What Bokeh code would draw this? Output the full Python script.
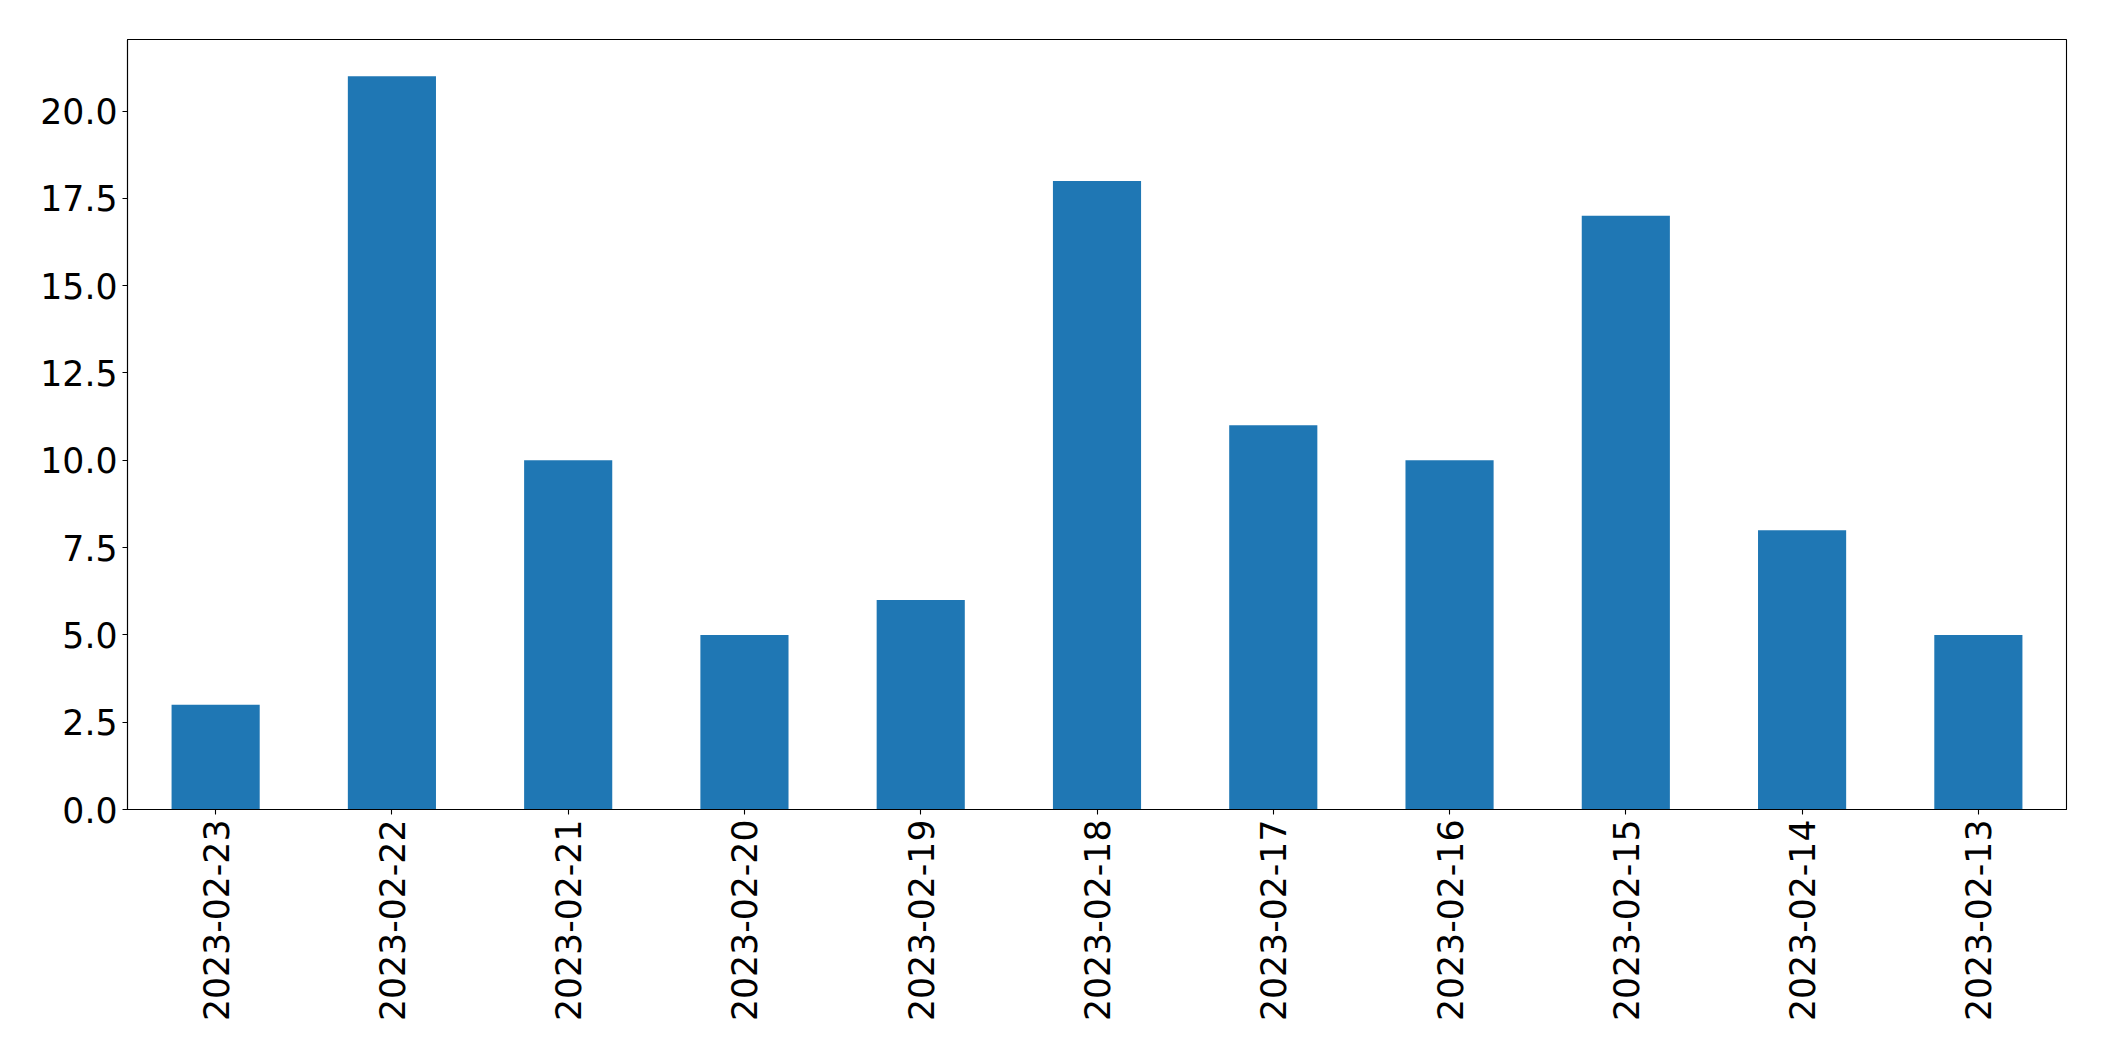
import math
from bokeh.plotting import figure
from bokeh.models import Range1d, FactorRange, FixedTicker, NumeralTickFormatter, ColumnDataSource
from bokeh.embed import file_html
from bokeh.resources import INLINE

dates = ["2023-02-23", "2023-02-22", "2023-02-21", "2023-02-20", "2023-02-19",
         "2023-02-18", "2023-02-17", "2023-02-16", "2023-02-15", "2023-02-14", "2023-02-13"]
counts = [3, 21, 10, 5, 6, 18, 11, 10, 17, 8, 5]
y_ticks = [0, 2.5, 5, 7.5, 10, 12.5, 15, 17.5, 20]

src = ColumnDataSource(dict(x=dates, top=counts))

p = figure(x_range=FactorRange(*dates), y_range=Range1d(0, max(counts) * 1.05),
           frame_width=1939, frame_height=770,
           min_border_left=127, min_border_right=22, min_border_top=39, min_border_bottom=236,
           output_backend="svg", toolbar_location=None)

p.vbar(x="x", top="top", width=0.5, source=src, fill_color="#1f77b4", line_color=None)

p.xgrid.visible = False
p.ygrid.visible = False
p.outline_line_color = "black"
p.outline_line_width = 1.1
p.outline_line_alpha = 1.0

for ax in (p.xaxis[0], p.yaxis[0]):
    ax.major_label_text_font = "DejaVu Sans"
    ax.major_label_text_font_size = "34.7px"
    ax.major_label_text_color = "black"
    ax.axis_line_color = "black"
    ax.axis_line_width = 1.1
    ax.major_tick_line_color = "black"
    ax.major_tick_line_width = 1.1
    ax.major_tick_out = 5
    ax.major_tick_in = 0
    ax.minor_tick_out = 0
    ax.minor_tick_in = 0
    ax.major_label_standoff = 5

p.yaxis[0].ticker = FixedTicker(ticks=y_ticks)
p.yaxis[0].formatter = NumeralTickFormatter(format="0.0")
p.xaxis[0].major_label_orientation = math.pi / 2

open("out.html", "w").write(file_html(p, INLINE))
